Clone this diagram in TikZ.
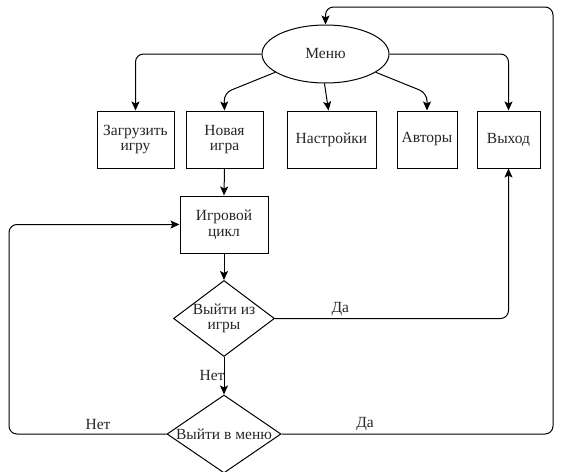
\documentclass[tikz,border=0pt]{standalone}
\usepackage{fontspec}
\setmainfont{Liberation Serif}
\usetikzlibrary{shapes.geometric,arrows.meta}
\begin{document}
\begin{tikzpicture}[x=1pt,y=-1pt,
  every node/.style={font=\fontsize{15.5}{15.5}\selectfont, text=black!85},
  box/.style={draw, line width=1pt, rectangle, minimum height=57pt, inner sep=0pt, align=center},
  dia/.style={draw, line width=1pt, diamond, inner sep=0pt},
  conn/.style={draw, line width=1pt, rounded corners=8pt},
  arr/.style={conn, -{Stealth[length=9pt,width=8pt,inset=2pt]}},
  lab/.style={inner sep=0pt}
]
\useasboundingbox (0,0) rectangle (564,471);
\node[draw, line width=1pt, ellipse, minimum width=127pt, minimum height=58pt, inner sep=0pt] (menu) at (325.5,54) {Меню};
\node[box, minimum width=77pt] (zag) at (135.5,139.5) {Загрузить\\игру};
\node[box, minimum width=77pt] (nova) at (224.5,139.5) {Новая\\игра};
\node[box, minimum width=89pt] (nast) at (331.5,139.5) {Настройки};
\node[box, minimum width=60pt] (avt) at (427,139.5) {Авторы};
\node[box, minimum width=63pt] (vyh) at (508.5,139.5) {Выход};
\node[box, minimum width=88pt] (cikl) at (224,224.5) {Игровой\\цикл};
\node[dia, minimum width=101pt, minimum height=76pt, label={[align=center]center:Выйти из\\игры}] (d1) at (224,318.5) {};
\node[dia, minimum width=114pt, minimum height=78pt, label={center:Выйти в меню}] (d2) at (224,434) {};
\coordinate (cA) at (224,93);
\coordinate (cB) at (427,93);
\coordinate (cL) at (9,224.5);
\coordinate (cR) at (553,7);
\draw[arr] (menu.west) -| (zag.north);
\draw[arr] (menu.200) -- (cA) -- (nova.north);
\draw[arr] (menu.268) -- ([xshift=-3pt]nast.north);
\draw[arr] (menu.340) -- (cB) -- (avt.north);
\draw[arr] (menu.east) -| (vyh.north);
\draw[arr] (nova.south) -- (cikl.north);
\draw[arr] (cikl.south) -- (d1.north);
\draw[arr] (d1.south) -- node[lab, left, pos=0.5, xshift=1pt] {Нет} (d2.north);
\draw[arr] (d1.east) -| node[lab, pos=0.14, above=2pt] {Да} (vyh.south);
\draw[arr] (d2.west) -- (cL |- d2.west) -- (cL) -- (cikl.west);
\node[lab] (nl) at (98,424) {Нет};
\draw[arr] (d2.east) -| (cR) -| (menu.north);
\node[lab] (yl) at (365,424) {Да};
\end{tikzpicture}
\end{document}
